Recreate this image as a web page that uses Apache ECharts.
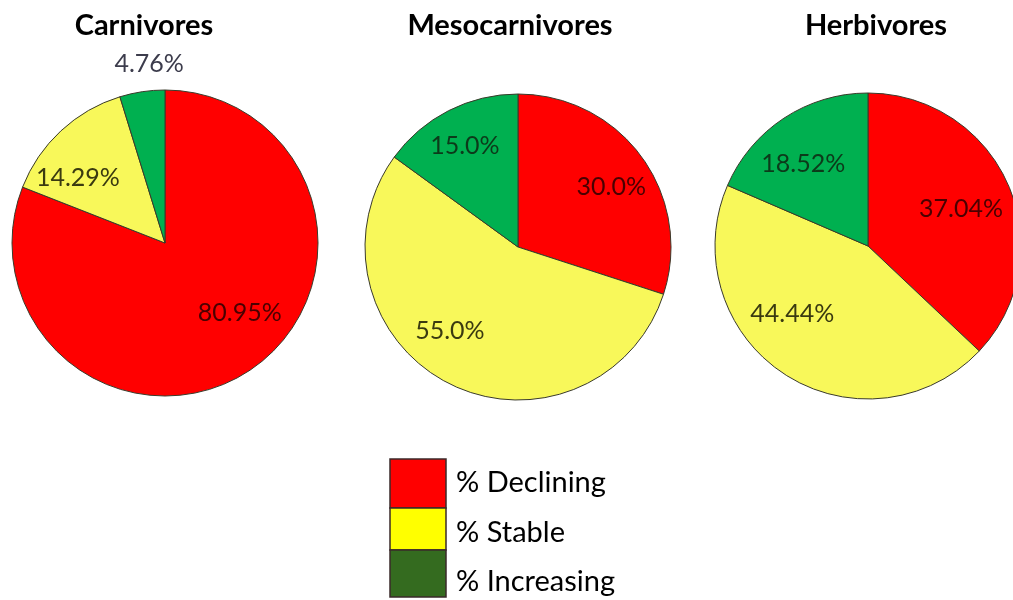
<!DOCTYPE html>
<html>
<head>
<meta charset="utf-8">
<script src="https://cdn.jsdelivr.net/npm/echarts@6/dist/echarts.min.js"></script>
<style>
  html, body { margin: 0; padding: 0; background: #fff; }
  #chart { width: 1013px; height: 600px; }
</style>
</head>
<body>
<div id="chart"></div>
<script>
// Population trend shares per guild
const groups = ['Carnivores', 'Mesocarnivores', 'Herbivores'];
const trends = ['% Declining', '% Stable', '% Increasing'];
const carnivores = [80.95, 14.29, 4.76];
const mesocarnivores = [30.0, 55.0, 15.0];
const herbivores = [37.04, 44.44, 18.52];
const labelText = [
  ['80.95%', '14.29%', '4.76%'],
  ['30.0%', '55.0%', '15.0%'],
  ['37.04%', '44.44%', '18.52%']
];

// Styling
const sliceColors = ['#ff0000', '#f8f85a', '#00b050'];
const legendColors = ['#ff0000', '#ffff00', '#346b1f'];
const labelColors = [
  ['#4a0000', '#3a3a10', '#3c3c4c'],
  ['#4a0000', '#3a3a10', '#0c3a1a'],
  ['#4a0000', '#3a3a10', '#0c3a1a']
];
const centers = [[165, 243], [518, 247], [868, 246]];
const radius = 153;
const titleX = [139, 505, 871];
// nudges of the slice labels from their default inside spot
const labelNudge = [
  [[30, 4], [-33, -7], [-4, -100]],
  [[29, -13], [-32, 13], [-17, -30]],
  [[20, -6], [-32, 2], [-21, -16]]
];

const values = [carnivores, mesocarnivores, herbivores];
const font = 'Lato, "Open Sans", sans-serif';

const series = values.map((vals, s) => ({
  type: 'pie',
  center: centers[s],
  radius: radius,
  startAngle: 90,
  clockwise: true,
  silent: true,
  animation: false,
  itemStyle: { borderColor: '#3a3a2a', borderWidth: 1 },
  label: {
    show: true,
    position: 'inside',
    fontFamily: font,
    fontSize: 25,
    formatter: p => labelText[s][p.dataIndex]
  },
  labelLine: { show: false },
  labelLayout: p => ({ dx: labelNudge[s][p.dataIndex][0], dy: labelNudge[s][p.dataIndex][1] }),
  data: vals.map((v, i) => ({
    name: trends[i],
    value: v,
    itemStyle: { color: sliceColors[i] },
    label: { color: labelColors[s][i] }
  }))
}));

const titles = groups.map((g, s) => ({
  text: g,
  left: titleX[s],
  top: 6,
  textAlign: 'center',
  textStyle: { fontFamily: font, fontWeight: 'bold', fontSize: 29, color: '#000' }
}));

// Legend drawn as a stacked swatch column with labels
const legendBox = { x: 390, y: 459, w: 56, h: [49, 42, 47] };
const legendTextY = [483, 533, 582];
const legendGraphics = [];
let yy = legendBox.y;
trends.forEach((t, i) => {
  legendGraphics.push({
    type: 'rect',
    shape: { x: legendBox.x, y: yy, width: legendBox.w, height: legendBox.h[i] },
    style: { fill: legendColors[i], stroke: '#3a2a2a', lineWidth: 1.5 }
  });
  legendGraphics.push({
    type: 'text',
    x: 456,
    y: legendTextY[i],
    style: {
      text: t,
      fill: '#000',
      font: '29px ' + font,
      textVerticalAlign: 'middle'
    }
  });
  yy += legendBox.h[i];
});

const chart = echarts.init(document.getElementById('chart'), null, { renderer: 'canvas' });
chart.setOption({
  backgroundColor: '#ffffff',
  animation: false,
  title: titles,
  series: series,
  graphic: legendGraphics
});
</script>
</body>
</html>
